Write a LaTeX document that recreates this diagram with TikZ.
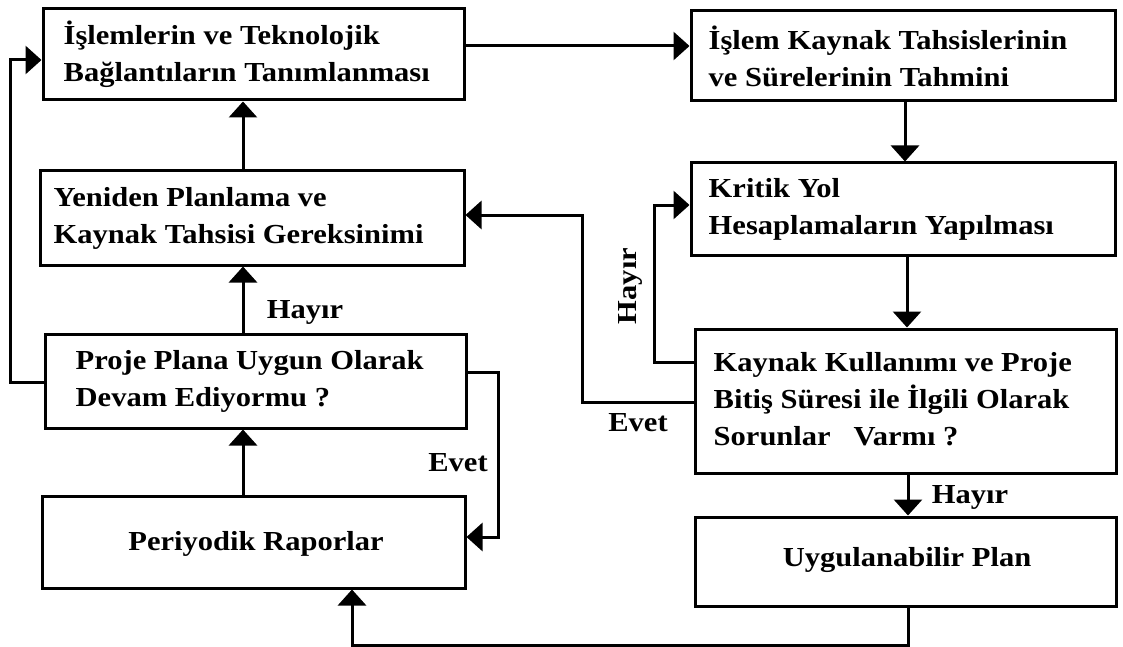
\documentclass[tikz,border=0pt]{standalone}
\usepackage{fontspec}
\setmainfont{Liberation Serif}[FakeStretch=1.11]
\usetikzlibrary{arrows.meta}
\begin{document}
\begin{tikzpicture}[x=1pt,y=-1pt,
  box/.style={draw, line width=3pt, inner sep=0pt, font=\fontsize{27.5}{37}\selectfont\bfseries},
  txt/.style={font=\fontsize{27.5}{37}\selectfont\bfseries, align=left, inner sep=0pt, anchor=west},
  lbl/.style={font=\fontsize{27.5}{37}\selectfont\bfseries, inner sep=0pt},
  arr/.style={-{Triangle[width=28pt,length=16pt]}, line width=3pt}]
\useasboundingbox (0,0) rectangle (1123,647);
\fill[white] (0,0) rectangle (1123,647);
% boxes
\node[box, minimum width=421pt, minimum height=91pt] (a) at (253.5,54.5) {};
\node[box, minimum width=424pt, minimum height=90pt] (b) at (903,56) {};
\node[box, minimum width=424pt, minimum height=92pt] (c) at (903,209) {};
\node[box, minimum width=421pt, minimum height=144pt] (d) at (905.5,401) {};
\node[box, minimum width=424pt, minimum height=94pt] (e) at (252,218) {};
\node[box, minimum width=421pt, minimum height=94pt] (f) at (255.5,381) {};
\node[box, minimum width=423pt, minimum height=92pt] (g) at (253.5,542) {};
\node[box, minimum width=421pt, minimum height=89pt] (h) at (905.5,561.5) {};
% texts
\node[txt] (ta) at ([xshift=22pt]a.west) {İşlemlerin ve Teknolojik\\Bağlantıların Tanımlanması};
\node[txt] (tb) at ([xshift=19pt]b.west) {İşlem Kaynak Tahsislerinin\\ve Sürelerinin Tahmini};
\node[txt] (tc) at ([xshift=19pt]c.west) {Kritik Yol\\Hesaplamaların Yapılması};
\node[txt] (td) at ([xshift=20pt,yshift=2pt]d.west) {Kaynak Kullanımı ve Proje\\Bitiş Süresi ile İlgili Olarak\\Sorunlar\ \ \ Varmı ?};
\node[txt] (te) at ([xshift=15pt]e.west) {Yeniden Planlama ve\\Kaynak Tahsisi Gereksinimi};
\node[txt] (tf) at ([xshift=32pt]f.west) {Proje Plana Uygun Olarak\\Devam Ediyormu ?};
\node[lbl] (tg) at (256,544) {Periyodik Raporlar};
\node[lbl] (th) at (907,560) {Uygulanabilir Plan};
% labels
\node[lbl] (l1) at (305,312) {Hayır};
\node[lbl, rotate=90] (l2) at (630,286) {Hayır};
\node[lbl] (l3) at (638,423) {Evet};
\node[lbl] (l4) at (458,463) {Evet};
\node[lbl] (l5) at (970,497) {Hayır};
% connectors
\draw[arr] (a.east |- 0,46) -- (b.west |- 0,46);
\draw[arr] (b.south -| 905,0) -- (c.north -| 905,0);
\draw[arr] (c.south -| 907,0) -- (d.north -| 907,0);
\draw[arr] (d.south -| 908,0) -- (h.north -| 908,0);
\draw[arr] (h.south -| 908,0) -- (908,645) -- (352,645) -- (g.south -| 352,0);
\draw[arr] (g.north -| 243,0) -- (f.south -| 243,0);
\draw[arr] (f.north -| 243,0) -- (e.south -| 243,0);
\draw[arr] (e.north -| 243,0) -- (a.south -| 243,0);
\draw[arr] (f.west |- 0,382) -- (10,382) -- (10,60) -- (a.west |- 0,60);
\draw[arr] (f.east |- 0,372) -- (498,372) -- (498,537) -- (g.east |- 0,537);
\draw[arr] (d.west |- 0,362) -- (654,362) -- (654,205) -- (c.west |- 0,205);
\draw[arr] (d.west |- 0,402) -- (582,402) -- (582,215) -- (e.east |- 0,215);
\end{tikzpicture}
\end{document}
